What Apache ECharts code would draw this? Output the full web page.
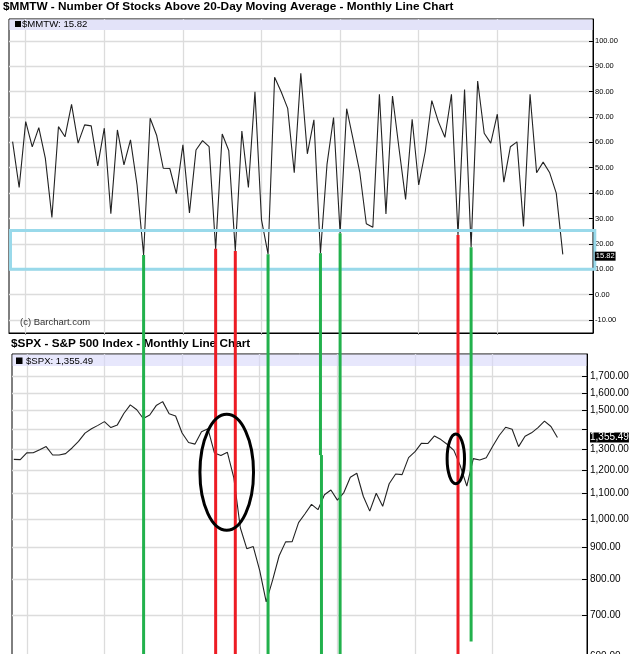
<!DOCTYPE html>
<html><head><meta charset="utf-8">
<script src="https://cdn.jsdelivr.net/npm/echarts@6/dist/echarts.min.js"></script>
<style>html,body{margin:0;padding:0;background:#fff}#c{width:635px;height:654px}</style>
</head><body><div id="c"></div>
<script>
// ---- data ----
const months = [
 '2005-11','2005-12',
 '2006-01','2006-02','2006-03','2006-04','2006-05','2006-06','2006-07','2006-08','2006-09','2006-10','2006-11','2006-12',
 '2007-01','2007-02','2007-03','2007-04','2007-05','2007-06','2007-07','2007-08','2007-09','2007-10','2007-11','2007-12',
 '2008-01','2008-02','2008-03','2008-04','2008-05','2008-06','2008-07','2008-08','2008-09','2008-10','2008-11','2008-12',
 '2009-01','2009-02','2009-03','2009-04','2009-05','2009-06','2009-07','2009-08','2009-09','2009-10','2009-11','2009-12',
 '2010-01','2010-02','2010-03','2010-04','2010-05','2010-06','2010-07','2010-08','2010-09','2010-10','2010-11','2010-12',
 '2011-01','2011-02','2011-03','2011-04','2011-05','2011-06','2011-07','2011-08','2011-09','2011-10','2011-11','2011-12',
 '2012-01','2012-02','2012-03','2012-04','2012-05','2012-06','2012-07','2012-08','2012-09','2012-10','2012-11'
];
const mmtw = [
 60.3, 42.2, 68.2, 58.2, 65.8, 53.7, 30.4, 66.2, 62.2, 75.0,
 59.7, 66.9, 66.5, 50.7, 65.6, 31.9, 64.9, 51.1, 61.0, 43.2,
 15.6, 69.5, 62.7, 49.8, 49.7, 39.8, 59.0, 32.2, 57.0, 60.7,
 58.3, 18.0, 63.3, 56.8, 17.2, 64.5, 42.2, 80.0, 29.4, 15.9,
 85.7, 80.0, 73.4, 48.0, 87.3, 55.5, 68.9, 16.3, 51.3, 69.8,
 24.2, 73.3, 61.0, 48.3, 27.9, 26.5, 79.0, 31.8, 78.3, 57.5,
 37.5, 69.1, 43.2, 56.4, 76.5, 68.2, 62.0, 79.0, 23.5, 80.9,
 18.6, 84.2, 63.6, 59.7, 71.1, 44.3, 58.3, 60.2, 26.8, 79.0,
 48.0, 52.2, 48.0, 40.0, 15.82
];
const spx = [
 1249.48, 1248.29,
 1280.08, 1280.66, 1294.87, 1310.61, 1270.09, 1270.20, 1276.66, 1303.82, 1335.85, 1377.94, 1400.63, 1418.30,
 1438.24, 1406.82, 1420.86, 1482.37, 1530.62, 1503.35, 1455.27, 1473.99, 1526.75, 1549.38, 1481.14, 1468.36,
 1378.55, 1330.63, 1322.70, 1385.59, 1400.38, 1280.00, 1267.38, 1282.83, 1166.36, 968.75, 896.24, 903.25,
 825.88, 735.09, 797.87, 872.81, 919.14, 919.32, 987.48, 1020.62, 1057.08, 1036.19, 1095.63, 1115.10,
 1073.87, 1104.49, 1169.43, 1186.69, 1089.41, 1030.71, 1101.60, 1049.33, 1141.20, 1183.26, 1180.55, 1257.64,
 1286.12, 1327.22, 1325.83, 1363.61, 1345.20, 1320.64, 1292.28, 1218.89, 1131.42, 1253.30, 1246.96, 1257.60,
 1312.41, 1365.68, 1408.47, 1397.91, 1310.33, 1362.16, 1379.32, 1406.58, 1440.67, 1412.16, 1355.49
];
const mmtwTicks = [-10, 0, 10, 20, 30, 40, 50, 60, 70, 80, 90, 100];
const spxLabelTicks = [600, 700, 800, 900, 1000, 1100, 1200, 1300, 1500, 1600, 1700];
const spxGridTicks = [600, 700, 800, 900, 1000, 1100, 1200, 1300, 1400, 1500, 1600, 1700];
// annotations: signal months (index into months) and colours
const signalMonths = ['2007-07', '2008-06', '2008-09', '2009-02', '2009-10', '2010-01', '2011-07', '2011-09'];
const signalColors = ['#22B14C', '#ED1C24', '#ED1C24', '#22B14C', '#22B14C', '#22B14C', '#ED1C24', '#22B14C'];
const highlightBand = [10, 25.2];      // MMTW value range of the light-blue box
const ellipses = [ {month: 32.9, value: 1191, rx: 26.8, ry: 58}, {month: 68.3, value: 1252, rx: 8.7, ry: 24.8} ];

// ---- chart ----
const FONT = '"Liberation Sans", Arial, sans-serif';
const chart = echarts.init(document.getElementById('c'));
const yearIdx = months.map((m, i) => m.endsWith('-01') ? i : -1).filter(i => i >= 0);
const topData = mmtw.map((v, i) => [i, v]);
const botData = spx.map((v, i) => [i, v]);
const fmt2 = v => Number(v).toLocaleString('en-US', {minimumFractionDigits: 2, maximumFractionDigits: 2});
const gridLine = {show: true, lineStyle: {color: '#dcdcdc', width: 1.3}};

chart.setOption({
  animation: false,
  textStyle: {fontFamily: FONT},
  title: [
    {text: '$MMTW - Number Of Stocks Above 20-Day Moving Average - Monthly Line Chart', left: 3, top: 1, padding: 0,
     textStyle: {fontSize: 11.8, fontWeight: 'bold', color: '#000', fontFamily: FONT}},
    {text: '$SPX - S&P 500 Index - Monthly Line Chart', left: 11, top: 338, padding: 0,
     textStyle: {fontSize: 11.8, fontWeight: 'bold', color: '#000', fontFamily: FONT}}
  ],
  grid: [
    {left: 9, right: 42, top: 19, height: 314, show: true, borderColor: '#000', borderWidth: 1, backgroundColor: 'transparent', outerBoundsMode: 'none', containLabel: false},
    {left: 12, right: 48, top: 354, height: 320, show: true, borderColor: '#000', borderWidth: 1, backgroundColor: 'transparent', outerBoundsMode: 'none', containLabel: false}
  ],
  xAxis: [
    {type: 'value', gridIndex: 0, min: -0.55, max: 88.61,
     axisLabel: {show: false}, axisLine: {show: true, onZero: false, lineStyle: {color: '#000'}},
     axisTick: {show: true, customValues: yearIdx, length: 2, lineStyle: {color: '#999'}},
     splitLine: gridLine},
    {type: 'value', gridIndex: 1, min: -0.28, max: 88.57,
     axisLabel: {show: false}, axisLine: {show: true, onZero: false, lineStyle: {color: '#000'}},
     axisTick: {show: false, customValues: yearIdx},
     splitLine: gridLine}
  ],
  yAxis: [
    {type: 'value', gridIndex: 0, position: 'right', min: -15.19, max: 108.67,
     axisLine: {show: true, onZero: false, lineStyle: {color: '#000'}},
     axisTick: {show: true, inside: true, length: 4, customValues: mmtwTicks, lineStyle: {color: '#000'}},
     axisLabel: {customValues: mmtwTicks, formatter: v => fmt2(v), fontSize: 7.5, color: '#000', margin: 2, fontFamily: FONT},
     splitLine: gridLine},
    {type: 'log', gridIndex: 1, position: 'right', min: 562, max: 1850,
     axisLine: {show: true, onZero: false, lineStyle: {color: '#000'}},
     axisTick: {show: true, inside: true, length: 5, customValues: spxGridTicks, lineStyle: {color: '#000'}},
     axisLabel: {customValues: spxLabelTicks, formatter: v => fmt2(v), fontSize: 10, color: '#000', margin: 3, fontFamily: FONT},
     splitLine: gridLine}
  ],
  series: [
    {type: 'line', xAxisIndex: 0, yAxisIndex: 0, data: topData, showSymbol: false, z: 3,
     lineStyle: {color: '#222', width: 1.1}},
    {type: 'line', xAxisIndex: 1, yAxisIndex: 1, data: botData, showSymbol: false, z: 3,
     lineStyle: {color: '#222', width: 1.1}}
  ]
});

// ---- annotations positioned through the axes ----
const p0 = (x, y) => chart.convertToPixel({gridIndex: 0}, [x, y]);
const p1 = (x, y) => chart.convertToPixel({gridIndex: 1}, [x, y]);
const tl0 = p0(-0.55, 108.67), br0 = p0(88.61, -15.19);
const tl1 = p1(-0.28, 1850), br1 = p1(88.57, 562);
const H = 654;
const g = [];
// legend bands
g.push({type: 'rect', shape: {x: tl0[0] + 0.5, y: tl0[1] + 0.5, width: br0[0] - tl0[0] - 1, height: 10.5}, style: {fill: '#e3e3f9'}, z: 1});
g.push({type: 'rect', shape: {x: 15, y: tl0[1] + 2, width: 6, height: 6}, style: {fill: '#000'}, z: 2});
g.push({type: 'text', x: 22, y: tl0[1] + 5.5, style: {text: '$MMTW: ' + mmtw[mmtw.length - 1].toFixed(2), font: '9.6px ' + FONT, fill: '#000', verticalAlign: 'middle'}, z: 2});
g.push({type: 'rect', shape: {x: tl1[0] + 0.5, y: tl1[1] + 0.5, width: br1[0] - tl1[0] - 1, height: 11.5}, style: {fill: 'rgba(215,215,250,0.6)'}, z: 1});
g.push({type: 'rect', shape: {x: 16, y: tl1[1] + 3.5, width: 6.5, height: 6.5}, style: {fill: '#000'}, z: 2});
g.push({type: 'text', x: 26, y: tl1[1] + 7, style: {text: '$SPX: ' + fmt2(spx[spx.length - 1]), font: '9.6px ' + FONT, fill: '#000', verticalAlign: 'middle'}, z: 2});
// copyright
g.push({type: 'text', x: 20, y: br0[1] - 11, style: {text: '(c) Barchart.com', font: '9.5px ' + FONT, fill: '#333', verticalAlign: 'middle'}, z: 2});
// last value boxes
const lastTop = p0(mmtw.length - 1, mmtw[mmtw.length - 1]);
g.push({type: 'text', x: br0[0] + 1.8, y: lastTop[1] + 1.8, style: {text: mmtw[mmtw.length - 1].toFixed(2), font: '7.5px ' + FONT, fill: '#fff', backgroundColor: '#000', padding: [1, 1, 0, 1], verticalAlign: 'middle'}, z: 12});
const lastBot = p1(spx.length - 1, spx[spx.length - 1]);
g.push({type: 'text', x: br1[0] + 3, y: lastBot[1], style: {text: fmt2(spx[spx.length - 1]), font: '10px ' + FONT, fill: '#fff', backgroundColor: '#000', padding: [0, 0, 0, 0], verticalAlign: 'middle'}, z: 12});
// highlight box
const bA = p0(0, highlightBand[1]), bB = p0(0, highlightBand[0]);
g.push({type: 'rect', shape: {x: tl0[0] + 1.5, y: bA[1], width: br0[0] - tl0[0] + 0.3, height: bB[1] - bA[1]}, style: {fill: 'none', stroke: '#99D9EA', lineWidth: 3}, z: 8});
// signal lines
signalMonths.forEach((m, k) => {
  const i = months.indexOf(m);
  const top = p0(i, mmtw[i]);
  let endY = H;
  if (m === '2011-09') endY = p1(0, 634)[1];
  if (m === '2009-10') {
    const jog = p1(0, 1270)[1];
    g.push({type: 'line', shape: {x1: top[0], y1: top[1], x2: top[0], y2: jog}, style: {stroke: signalColors[k], lineWidth: 3}, z: 10});
    g.push({type: 'line', shape: {x1: top[0] + 1, y1: jog, x2: top[0] + 1, y2: H}, style: {stroke: signalColors[k], lineWidth: 3}, z: 10});
  } else {
    g.push({type: 'line', shape: {x1: top[0], y1: top[1], x2: top[0], y2: endY}, style: {stroke: signalColors[k], lineWidth: 3}, z: 10});
  }
});
// ellipses
ellipses.forEach(e => {
  const c = p1(e.month, e.value);
  g.push({type: 'ellipse', shape: {cx: c[0], cy: c[1], rx: e.rx, ry: e.ry}, style: {fill: 'none', stroke: '#000', lineWidth: 3}, z: 11});
});
chart.setOption({graphic: {elements: g}});
</script>
</body></html>
